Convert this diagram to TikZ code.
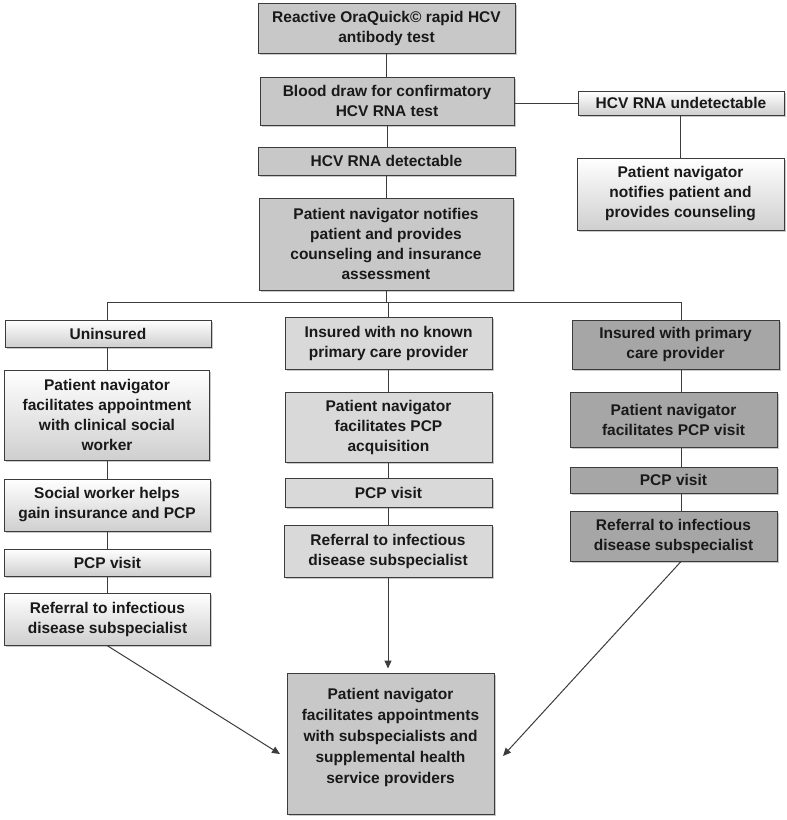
\documentclass[tikz,border=0pt]{standalone}
\usepackage{fontspec}
\setmainfont{Liberation Sans}
\usetikzlibrary{shadows,arrows.meta,calc}
\definecolor{maingray}{HTML}{C8C8C8}
\definecolor{midgray}{HTML}{D9D9D9}
\definecolor{darkgraybox}{HTML}{A6A6A6}
\definecolor{linegray}{HTML}{3C3C3C}
\definecolor{gradbot}{HTML}{CFCFCF}
\begin{document}
\begin{tikzpicture}[x=1pt,y=-1pt,
 box/.style={draw=linegray, line width=1pt, align=center, inner sep=0pt,
   font=\fontsize{15.5}{20}\selectfont\bfseries, text=black!90,
   drop shadow={shadow xshift=1.5pt,shadow yshift=-1.5pt,opacity=0.35,fill=black!60}},
 mainbox/.style={box, fill=maingray},
 gradbox/.style={box, top color=white, bottom color=gradbot},
 midbox/.style={box, fill=midgray},
 darkbox/.style={box, fill=darkgraybox},
 conn/.style={draw=linegray, line width=1pt},
 arr/.style={conn, -{Triangle[length=8pt,width=7pt]}}
]
\useasboundingbox[fill=white] (0,0) rectangle (787,820);

% main column
\node[mainbox, minimum width=257pt, minimum height=50pt] (b1) at (386.5,28) {Reactive OraQuick© rapid HCV\\antibody test};
\node[mainbox, minimum width=254pt, minimum height=48pt] (b2) at (387,101) {Blood draw for confirmatory\\HCV RNA test};
\node[mainbox, minimum width=257pt, minimum height=28pt] (b3) at (386.5,161) {HCV RNA detectable};
\node[mainbox, minimum width=254pt, minimum height=92pt] (b4) at (386,244) {Patient navigator notifies\\patient and provides\\counseling and insurance\\assessment};

% top right
\node[gradbox, minimum width=206pt, minimum height=24pt] (b5) at (681,103) {HCV RNA undetectable};
\node[gradbox, minimum width=207pt, minimum height=72pt] (b6) at (680.5,194) {Patient navigator\\notifies patient and\\provides counseling};

% left column
\node[gradbox, minimum width=206pt, minimum height=27pt] (b7) at (108,333.5) {Uninsured};
\node[gradbox, minimum width=205pt, minimum height=90pt] (b8) at (107,415) {Patient navigator\\facilitates appointment\\with clinical social\\worker};
\node[gradbox, minimum width=206pt, minimum height=52pt] (b9) at (107,505) {Social worker helps\\gain insurance and PCP};
\node[gradbox, minimum width=206pt, minimum height=27pt] (b10) at (107.5,562.5) {PCP visit};
\node[gradbox, minimum width=206pt, minimum height=52pt] (b11) at (107.5,619) {Referral to infectious\\disease subspecialist};

% middle column
\node[midbox, minimum width=207pt, minimum height=52pt] (b12) at (388.5,343) {Insured with no known\\primary care provider};
\node[midbox, minimum width=207pt, minimum height=70pt] (b13) at (388.5,427) {Patient navigator\\facilitates PCP\\acquisition};
\node[midbox, minimum width=207pt, minimum height=29pt] (b14) at (388.5,492.5) {PCP visit};
\node[midbox, minimum width=208pt, minimum height=52pt] (b15) at (388,551) {Referral to infectious\\disease subspecialist};

% right column
\node[darkbox, minimum width=207pt, minimum height=49pt] (b16) at (675.5,344.5) {Insured with primary\\care provider};
\node[darkbox, minimum width=207pt, minimum height=55pt] (b17) at (673.5,419.5) {Patient navigator\\facilitates PCP visit};
\node[darkbox, minimum width=207pt, minimum height=26pt] (b18) at (673.5,480) {PCP visit};
\node[darkbox, minimum width=207pt, minimum height=50pt] (b19) at (673.5,536) {Referral to infectious\\disease subspecialist};

% final
\node[mainbox, minimum width=207pt, minimum height=141pt, font=\fontsize{15.5}{21}\selectfont\bfseries] (b20) at (390.5,743.5) {Patient navigator\\facilitates appointments\\with subspecialists and\\supplemental health\\service providers\\[-6pt]\mbox{}};

% coordinates
\coordinate (busL) at (107,302);
\coordinate (busR) at (681,302);
\coordinate (xR) at (681,0);
\coordinate (tipL) at (280,754);
\coordinate (tipR) at (503,756);

% connectors main column
\draw[conn] (b1.south) -- (b1.south |- b2.north);
\draw[conn] (b2.south) -- (b2.south |- b3.north);
\draw[conn] (b3.south) -- (b3.south |- b4.north);
\draw[conn] (b2.east |- b5.west) -- (b5.west);
\draw[conn] (b5.south -| b6.north) -- (b6.north);

% bus
\draw[conn] (b4.south) -- (b4.south |- busL);
\draw[conn] (busL |- b7.north) -- (busL) -- (busR) -- (busR |- b16.north);
\draw[conn] (b12.north |- busL) -- (b12.north);

% left column
\draw[conn] (b7.south -| busL) -- (b8.north -| busL);
\draw[conn] (b8.south -| busL) -- (b9.north -| busL);
\draw[conn] (b9.south -| busL) -- (b10.north -| busL);
\draw[conn] (b10.south -| busL) -- (b11.north -| busL);

% middle column
\draw[conn] (b12.south) -- (b12.south |- b13.north);
\draw[conn] (b13.south) -- (b13.south |- b14.north);
\draw[conn] (b14.south) -- (b14.south |- b15.north);

% right column
\draw[conn] (b16.south -| xR) -- (b17.north -| xR);
\draw[conn] (b17.south -| xR) -- (b18.north -| xR);
\draw[conn] (b18.south -| xR) -- (b19.north -| xR);

% arrows to final
\draw[arr] (b11.south -| busL) -- (tipL);
\draw[arr] (b15.south) -- ($(b15.south |- b20.north)+(0,-4)$);
\draw[arr] (b19.south -| xR) -- (tipR);
\end{tikzpicture}
\end{document}
